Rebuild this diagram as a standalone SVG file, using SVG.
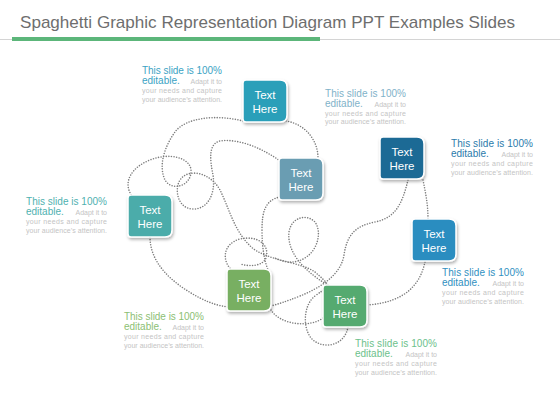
<svg xmlns="http://www.w3.org/2000/svg" xmlns:xlink="http://www.w3.org/1999/xlink" width="560" height="420" viewBox="0 0 560 420">
<style>
.title{font-family:"Liberation Sans",Arial,sans-serif;font-size:17px;fill:#6e6e6e}
.h{font-family:"Liberation Sans",Arial,sans-serif;font-size:10px}
.s{font-family:"Liberation Sans",Arial,sans-serif;font-size:7px;fill:#c4c4c4}
.nt{font-family:"Liberation Sans",Arial,sans-serif;font-size:11.5px;fill:#ffffff;text-anchor:middle}
.box{stroke:#ffffff;stroke-width:1.5;filter:url(#sh)}
.dot{fill:none;stroke:#7d7d7d;stroke-width:1.6;stroke-linecap:round;stroke-dasharray:0 2.6}
</style>
<defs>
<filter id="sh" x="-20%" y="-20%" width="150%" height="150%">
<feDropShadow dx="1" dy="2" stdDeviation="1.8" flood-color="#000" flood-opacity="0.3"/>
</filter>
<path id="nodeShape" d="M3,0 H37 Q44,0 44,7 V35 Q44,42 37,42 H3 Q0,42 0,39 V3 Q0,0 3,0 Z"/>
</defs>
<rect width="560" height="420" fill="#ffffff"/>
<g id="header">
<line x1="0" y1="39.5" x2="560" y2="39.5" stroke="#d4d4d4" stroke-width="1"/>
<rect x="12" y="37" width="308" height="4" fill="#5cb67a"/>
<text class="title" x="20" y="28" textLength="495" lengthAdjust="spacingAndGlyphs">Spaghetti Graphic Representation Diagram PPT Examples Slides</text>
</g>
<g id="connectors">
<path class="dot" d="M243,121 C215,114 185,118 175,132 C165,146 158,165 165,180 C172,192 192,186 191,170 C190,158 170,152 150,160 C132,167 122,182 132,196"/>
<path class="dot" d="M286,121 C305,124 318,140 318,158"/>
<path class="dot" d="M280,161 C265,150 240,138 220,141 C208,144 210,160 213,175 C216,195 207,210 192,209 C178,208 174,190 180,180 C188,168 210,172 220,190 C230,210 235,235 255,250 C275,262 300,262 315,272 C322,278 326,282 328,285"/>
<path class="dot" d="M280,197 C265,200 262,212 262,230 C262,250 265,262 268,270"/>
<path class="dot" d="M408,180 C402,205 395,218 375,222 C355,226 347,235 344,255 C341,275 320,288 300,296 C285,302 278,304 271,306"/>
<path class="dot" d="M423,180 C426,195 428,205 428,219"/>
<path class="dot" d="M425,262 C420,285 405,302 368,305"/>
<path class="dot" d="M150,237 C150,265 175,285 200,298 C212,304 220,306 228,307"/>
<path class="dot" d="M271,310 C280,325 310,328 323,318"/>
<path class="dot" d="M348,327 C345,345 325,350 313,340 C302,330 303,305 315,296 C320,292 324,290 324,290"/>
<path class="dot" d="M232,270 C222,262 222,244 240,239 C258,235 270,245 266,258 C263,266 250,267 240,264"/>
<path class="dot" d="M326,284 C300,268 287,250 289,232 C291,218 306,213 315,222 C322,232 318,250 305,258 C295,264 285,263 275,258"/>
</g>
<g id="node1">
<use xlink:href="#nodeShape" x="243" y="80" class="box" fill="#2b9fb9"/>
<text class="nt" x="265" y="99">Text</text><text class="nt" x="265" y="113">Here</text>
</g>
<g id="node2">
<use xlink:href="#nodeShape" x="279" y="158" class="box" fill="#6b9db2"/>
<text class="nt" x="301" y="177">Text</text><text class="nt" x="301" y="191">Here</text>
</g>
<g id="node3">
<use xlink:href="#nodeShape" x="380" y="137" class="box" fill="#1f6a95"/>
<text class="nt" x="402" y="156">Text</text><text class="nt" x="402" y="170">Here</text>
</g>
<g id="node4">
<use xlink:href="#nodeShape" x="128" y="195" class="box" fill="#4bacaa"/>
<text class="nt" x="150" y="214">Text</text><text class="nt" x="150" y="228">Here</text>
</g>
<g id="node5">
<use xlink:href="#nodeShape" x="412" y="219" class="box" fill="#2b8dc0"/>
<text class="nt" x="434" y="238">Text</text><text class="nt" x="434" y="252">Here</text>
</g>
<g id="node6">
<use xlink:href="#nodeShape" x="227" y="269" class="box" fill="#78af62"/>
<text class="nt" x="249" y="288">Text</text><text class="nt" x="249" y="302">Here</text>
</g>
<g id="node7">
<use xlink:href="#nodeShape" x="323" y="285" class="box" fill="#55aa70"/>
<text class="nt" x="345" y="304">Text</text><text class="nt" x="345" y="318">Here</text>
</g>
<g id="note1">
<text class="h" x="142" y="74" fill="#3ba3c4" textLength="80" lengthAdjust="spacing">This slide is 100%</text>
<text class="h" x="142" y="84" fill="#3ba3c4">editable.</text>
<text class="s" x="222" y="84" text-anchor="end">Adapt it to</text>
<text class="s" x="142" y="93" textLength="80" lengthAdjust="spacing">your needs and capture</text>
<text class="s" x="142" y="101.5" textLength="80" lengthAdjust="spacing">your audience’s attention.</text>
</g>
<g id="note2">
<text class="h" x="325" y="96.5" fill="#7fb2c9" textLength="81" lengthAdjust="spacing">This slide is 100%</text>
<text class="h" x="325" y="106.5" fill="#7fb2c9">editable.</text>
<text class="s" x="406" y="106.5" text-anchor="end">Adapt it to</text>
<text class="s" x="325" y="115.5" textLength="81" lengthAdjust="spacing">your needs and capture</text>
<text class="s" x="325" y="124" textLength="81" lengthAdjust="spacing">your audience’s attention.</text>
</g>
<g id="note3">
<text class="h" x="451" y="147" fill="#2a7bab" textLength="82" lengthAdjust="spacing">This slide is 100%</text>
<text class="h" x="451" y="157" fill="#2a7bab">editable.</text>
<text class="s" x="533" y="157" text-anchor="end">Adapt it to</text>
<text class="s" x="451" y="166" textLength="82" lengthAdjust="spacing">your needs and capture</text>
<text class="s" x="451" y="174.5" textLength="82" lengthAdjust="spacing">your audience’s attention.</text>
</g>
<g id="note4">
<text class="h" x="26" y="205" fill="#4fb1b0" textLength="81" lengthAdjust="spacing">This slide is 100%</text>
<text class="h" x="26" y="215" fill="#4fb1b0">editable.</text>
<text class="s" x="107" y="215" text-anchor="end">Adapt it to</text>
<text class="s" x="26" y="224" textLength="81" lengthAdjust="spacing">your needs and capture</text>
<text class="s" x="26" y="232.5" textLength="81" lengthAdjust="spacing">your audience’s attention.</text>
</g>
<g id="note5">
<text class="h" x="442" y="276" fill="#2f90c1" textLength="82" lengthAdjust="spacing">This slide is 100%</text>
<text class="h" x="442" y="286" fill="#2f90c1">editable.</text>
<text class="s" x="524" y="286" text-anchor="end">Adapt it to</text>
<text class="s" x="442" y="295" textLength="82" lengthAdjust="spacing">your needs and capture</text>
<text class="s" x="442" y="303.5" textLength="82" lengthAdjust="spacing">your audience’s attention.</text>
</g>
<g id="note6">
<text class="h" x="124" y="320" fill="#8cc073" textLength="80" lengthAdjust="spacing">This slide is 100%</text>
<text class="h" x="124" y="330" fill="#8cc073">editable.</text>
<text class="s" x="204" y="330" text-anchor="end">Adapt it to</text>
<text class="s" x="124" y="339" textLength="80" lengthAdjust="spacing">your needs and capture</text>
<text class="s" x="124" y="347.5" textLength="80" lengthAdjust="spacing">your audience’s attention.</text>
</g>
<g id="note7">
<text class="h" x="355" y="347" fill="#6cc18b" textLength="82" lengthAdjust="spacing">This slide is 100%</text>
<text class="h" x="355" y="357" fill="#6cc18b">editable.</text>
<text class="s" x="437" y="357" text-anchor="end">Adapt it to</text>
<text class="s" x="355" y="366" textLength="82" lengthAdjust="spacing">your needs and capture</text>
<text class="s" x="355" y="374.5" textLength="82" lengthAdjust="spacing">your audience’s attention.</text>
</g>
</svg>
